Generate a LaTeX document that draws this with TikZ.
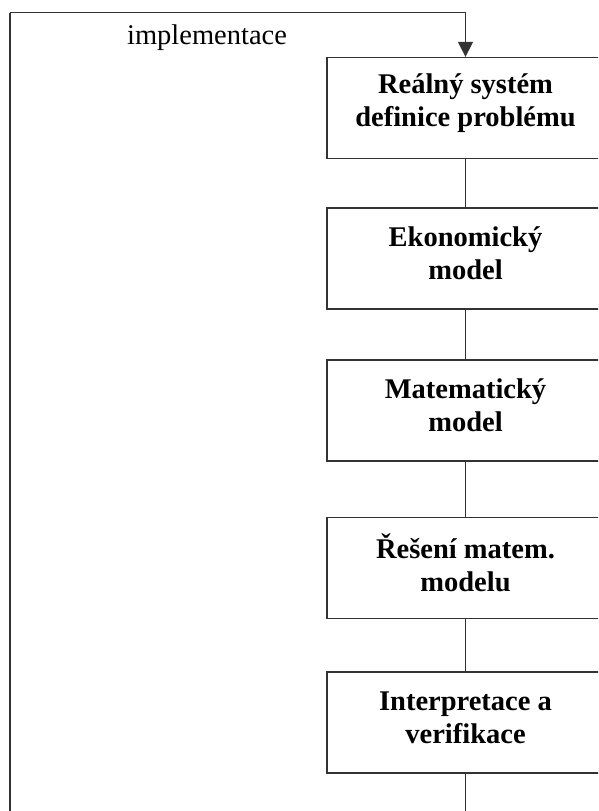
\documentclass[tikz,border=0pt]{standalone}
\usepackage{fontspec}
\setmainfont{Liberation Serif}
\usetikzlibrary{arrows.meta}
\definecolor{linegray}{HTML}{333333}
\begin{document}
\begin{tikzpicture}[x=1pt,y=-1pt,
  stepbox/.style={draw=linegray, line width=1.3pt, minimum width=277pt, minimum height=101pt,
    inner sep=0pt},
  steptext/.style={inner sep=0pt, align=center, font=\fontsize{28.5}{33}\selectfont\bfseries},
  conn/.style={draw=linegray, line width=1.3pt}]
\useasboundingbox (0,0) rectangle (598,811);
\clip (0,0) rectangle (598,811);
\node[stepbox] (a) at (465.5,108) {};
\node[stepbox] (b) at (465.5,258.5) {};
\node[stepbox] (c) at (465.5,410.5) {};
\node[stepbox] (d) at (465.5,568) {};
\node[stepbox] (e) at (465.5,722.5) {};
\node[steptext] (at) at ([yshift=5pt]a.center) {Reálný systém\\definice problému};
\node[steptext] (bt) at ([yshift=5pt]b.center) {Ekonomický\\model};
\node[steptext] (ct) at ([yshift=5pt]c.center) {Matematický\\model};
\node[steptext] (dt) at ([yshift=5pt]d.center) {Řešení matem.\\modelu};
\node[steptext] (et) at ([yshift=5pt]e.center) {Interpretace a\\verifikace};
\coordinate (br) at (465.5,840);
\coordinate (bl) at (10,840);
\coordinate (tl) at (10,12.5);
\coordinate (tr) at (465.5,12.5);
\draw[conn] (a) -- (b);
\draw[conn] (b) -- (c);
\draw[conn] (c) -- (d);
\draw[conn] (d) -- (e);
\draw[conn] (e) -- (br) -- (bl);
\draw[draw=linegray, line width=2pt] (bl) -- (tl);
\draw[conn, -{Triangle[width=15pt,length=15pt]}] (tl) -- (tr) -- (a.north);
\node[anchor=base, font=\fontsize{28.5}{33}\selectfont] (lbl) at (207,44) {implementace};
\end{tikzpicture}
\end{document}
